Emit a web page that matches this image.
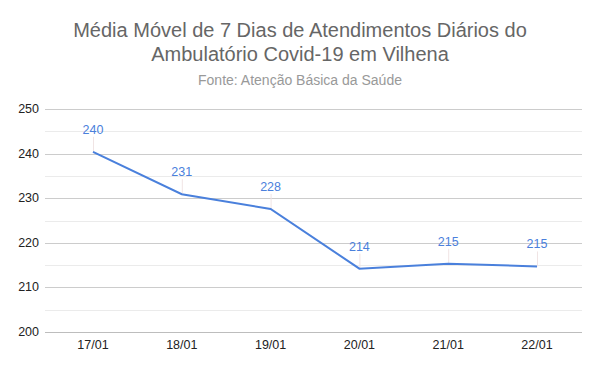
<!DOCTYPE html>
<html>
<head>
<meta charset="utf-8">
<script src="https://cdn.jsdelivr.net/npm/d3@7"></script>
<style>
  body { margin: 0; background: #fff; }
  svg { font-family: "Liberation Sans", Arial, sans-serif; }
</style>
</head>
<body>
<div id="chart"></div>
<script>
const dates = ["17/01", "18/01", "19/01", "20/01", "21/01", "22/01"];
const values = [240.4, 230.9, 227.6, 214.2, 215.3, 214.7];
const majorTicks = [200, 210, 220, 230, 240, 250];
const minorTicks = [205, 215, 225, 235, 245];

const size = { width: 600, height: 371 };
const margin = { top: 109, bottom: 39, left: 45, right: 18 };

const svg = d3
  .select("#chart")
  .append("svg")
  .attr("width", size.width)
  .attr("height", size.height);

// title block
svg
  .append("text")
  .attr("x", 300)
  .attr("y", 37)
  .attr("text-anchor", "middle")
  .attr("fill", "#666")
  .style("font-size", "20px")
  .text("Média Móvel de 7 Dias de Atendimentos Diários do");
svg
  .append("text")
  .attr("x", 300)
  .attr("y", 61)
  .attr("text-anchor", "middle")
  .attr("fill", "#666")
  .style("font-size", "20px")
  .text("Ambulatório Covid-19 em Vilhena");
svg
  .append("text")
  .attr("x", 300)
  .attr("y", 85)
  .attr("text-anchor", "middle")
  .attr("fill", "#999")
  .style("font-size", "14px")
  .text("Fonte: Atenção Básica da Saúde");

const y = d3
  .scaleLinear()
  .domain([200, 250])
  .range([size.height - margin.bottom, margin.top]);

const x = d3
  .scalePoint()
  .domain(dates)
  .range([93, 537]);

const x0 = margin.left;
const x1 = size.width - margin.right;

// minor grid
svg
  .append("g")
  .selectAll("line")
  .data(minorTicks)
  .enter()
  .append("line")
  .attr("x1", x0)
  .attr("x2", x1)
  .attr("y1", (d) => Math.round(y(d)) + 0.5)
  .attr("y2", (d) => Math.round(y(d)) + 0.5)
  .attr("stroke", "#ebebeb");

// major grid + labels
const grid = svg.append("g");
grid
  .selectAll("line")
  .data(majorTicks)
  .enter()
  .append("line")
  .attr("x1", x0)
  .attr("x2", x1)
  .attr("y1", (d) => Math.round(y(d)) + 0.5)
  .attr("y2", (d) => Math.round(y(d)) + 0.5)
  .attr("stroke", d => d === 200 ? "#bdbdbd" : "#cccccc");
grid
  .selectAll("text")
  .data(majorTicks)
  .enter()
  .append("text")
  .attr("x", 39)
  .attr("y", (d) => y(d) + 4)
  .attr("text-anchor", "end")
  .attr("fill", "#222")
  .style("font-size", "12.5px")
  .text((d) => d);

// x axis labels
svg
  .append("g")
  .selectAll("text")
  .data(dates)
  .enter()
  .append("text")
  .attr("x", (d) => x(d))
  .attr("y", 349)
  .attr("text-anchor", "middle")
  .attr("fill", "#222")
  .style("font-size", "12.5px")
  .text((d) => d);

const points = dates.map((d, i) => ({ date: d, value: values[i] }));

// leader lines for labels
svg
  .append("g")
  .selectAll("line")
  .data(points)
  .enter()
  .append("line")
  .attr("x1", (d) => x(d.date) + 0.5)
  .attr("x2", (d) => x(d.date) + 0.5)
  .attr("y1", (d) => y(d.value))
  .attr("y2", (d) => y(d.value) - 15)
  .attr("stroke", "#f0e4e4");

const line = d3
  .line()
  .x((d) => x(d.date))
  .y((d) => y(d.value));

svg
  .append("path")
  .datum(points)
  .attr("d", line)
  .attr("fill", "none")
  .attr("stroke", "#4a80dc")
  .attr("stroke-width", 2);

svg
  .append("g")
  .selectAll("text")
  .data(points)
  .enter()
  .append("text")
  .attr("x", (d) => x(d.date))
  .attr("y", (d) => y(d.value) - 18)
  .attr("text-anchor", "middle")
  .attr("fill", "#4a80dc")
  .style("font-size", "12.5px")
  .text((d) => Math.round(d.value));
</script>
</body>
</html>
